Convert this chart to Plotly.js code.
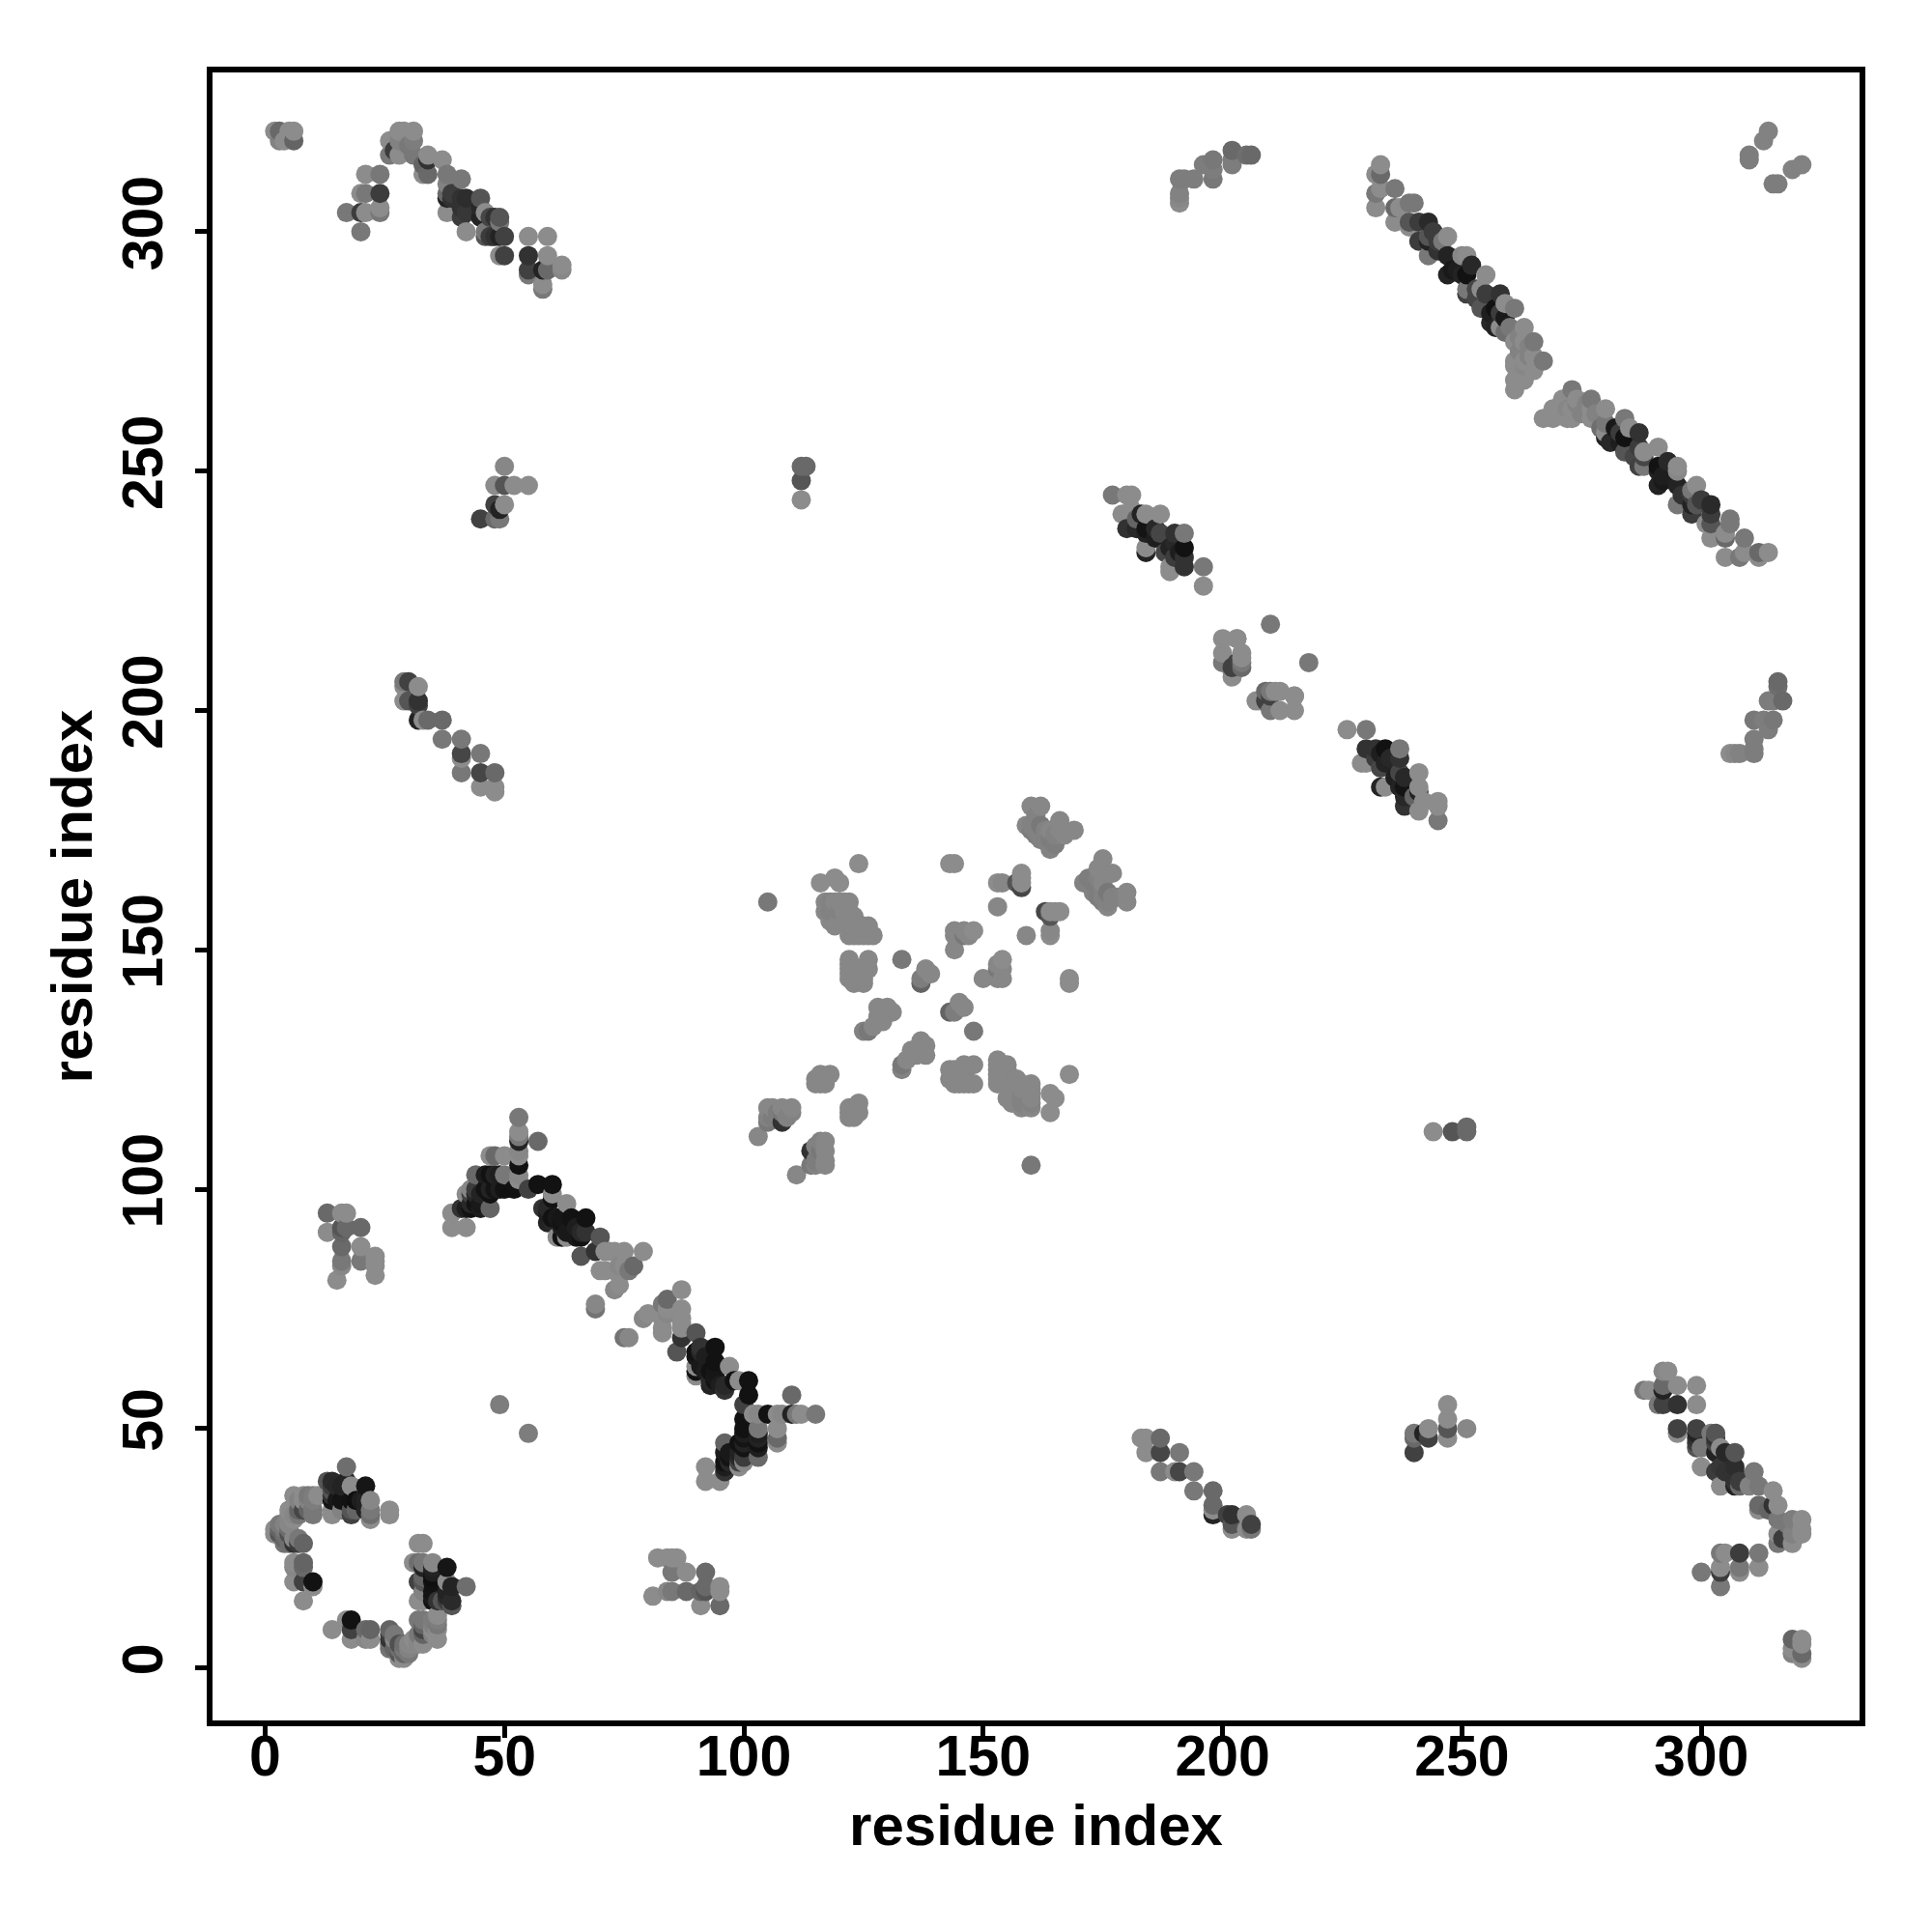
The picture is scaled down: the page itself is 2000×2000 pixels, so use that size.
<!DOCTYPE html>
<html><head><meta charset="utf-8">
<script src="https://cdn.plot.ly/plotly-3.0.1.min.js"></script>
<style>html,body{margin:0;padding:0;background:#fff}</style></head>
<body><div id="chart" style="width:2000px;height:2000px"></div>
<script>
// contacts as [residue i, residue j, grey level]; the map is symmetric, so only i<j is listed
const ringContacts = [[2,28,140],[2,29,140],[3,28,85],[3,30,120],[4,26,115],[5,30,135],[5,31,135],[5,32,135],[5,33,140],[6,26,50],[6,27,135],[6,31,140],[6,32,135],[6,36,140],[8,26,100],[8,33,70],[8,35,140],[8,36,140],[10,33,120],[10,35,125],[10,36,125],[10,32,120],[11,36,140],[3,29,100],[4,28,110],[4,30,130],[8,14,140],[6,18,140],[8,18,65],[10,17,140],[10,18,18],[6,21,135],[6,22,140],[8,21,105],[8,22,100],[13,39,85],[14,39,42],[14,37,85],[14,36,50],[14,35,20],[14,33,140],[14,32,140],[16,38,35],[16,35,20],[17,42,110],[17,39,35],[18,38,140],[18,35,18],[18,33,85],[18,32,65],[21,38,22],[21,35,35],[21,33,35],[22,35,135],[22,33,120],[22,31,140],[22,32,110],[26,33,140],[26,32,140],[4,27,100],[4,29,120],[5,28,80],[5,29,110],[7,32,120],[7,33,100],[7,35,130],[9,35,130],[9,36,120],[7,27,120],[7,26,60],[5,26,110],[9,33,100],[19,35,15],[19,33,100],[20,35,30],[15,35,25],[15,38,40],[16,33,130],[14,38,60]];
const stripContacts = [[39,95,140],[39,92,140],[42,92,140],[41,96,50],[43,96,18],[45,96,30],[47,96,100],[42,99,140],[43,100,135],[43,99,65],[45,99,35],[47,99,18],[47,100,35],[44,103,105],[47,103,18],[48,103,35],[50,103,120],[47,107,140],[48,107,105],[50,107,140],[50,100,18],[52,100,18],[53,102,140],[53,103,135],[53,105,18],[53,107,140],[53,108,135],[53,110,35],[53,111,120],[53,112,140],[53,115,120],[55,100,65],[57,101,18],[57,110,105],[60,101,18],[60,99,140],[60,98,18],[58,96,50],[63,97,140],[60,94,18],[59,93,35],[64,94,18],[67,94,18],[62,93,18],[61,90,140],[62,90,18],[63,90,140],[66,90,18],[67,91,50],[70,90,85],[66,86,85],[69,87,50],[71,87,140],[73,87,140],[75,87,140],[79,87,140],[70,83,140],[71,83,140],[73,83,140],[76,83,120],[77,84,105],[75,84,140],[73,79,135],[74,80,140],[69,76,135],[69,75,115],[72,87,140],[74,84,135],[44,99,40],[44,97,20],[45,97,25],[46,100,20],[48,100,20],[49,100,30],[49,103,30],[46,103,30],[44,100,60],[42,96,30],[43,97,40],[59,96,40],[59,95,30],[61,94,25],[62,94,22],[60,93,40],[62,92,30],[65,92,30],[65,90,25],[63,91,25],[66,91,40]];
const blockA = [[13,95,105],[16,95,140],[17,95,140],[13,91,140],[16,92,85],[17,92,105],[20,92,105],[16,91,100],[16,88,105],[20,88,140],[16,85,120],[16,84,135],[20,85,120],[23,86,140],[23,85,140],[23,84,140],[15,81,140],[23,82,140],[49,55,125],[112,244,140],[112,248,85],[112,251,105],[113,251,105]];
const centerContacts = [[105,160,120],[124,168,140],[116,164,140],[119,165,140],[120,164,140],[117,160,135],[117,158,135],[119,158,130],[122,160,135],[123,157,135],[122,158,135],[119,160,135],[118,156,135],[119,155,135],[122,153,135],[124,153,135],[126,155,135],[127,153,135],[125,154,135],[122,148,135],[122,146,135],[122,144,135],[123,143,135],[126,148,135],[126,146,135],[125,144,135],[125,146,135],[133,148,120],[138,146,135],[137,143,100],[139,145,135],[137,144,125],[143,168,140],[144,168,140],[144,154,135],[146,154,135],[148,154,140],[144,153,135],[146,153,120],[144,150,135],[153,159,135],[154,164,135],[158,164,140],[157,164,85],[158,166,140],[158,163,70],[158,165,140],[153,164,140],[160,180,135],[162,180,135],[159,176,135],[162,176,120],[162,173,130],[164,175,135],[166,177,135],[166,175,135],[169,175,135],[164,171,130],[167,174,135],[128,138,135],[130,138,135],[131,137,135],[127,134,135],[126,133,120],[125,133,130],[128,136,135],[129,135,135],[116,124,135],[118,124,135],[115,122,135],[117,122,135],[103,111,135],[105,117,135],[108,117,135],[110,117,135],[105,114,120],[108,114,50],[110,116,130],[108,116,120],[105,115,130],[109,115,130],[118,158,130],[118,160,130],[120,158,130],[120,160,135],[121,158,135],[121,156,135],[120,156,135],[121,160,135],[123,155,135],[124,155,135],[125,155,135],[122,155,135],[123,153,135],[125,153,135],[126,153,135],[123,146,135],[124,146,135],[123,144,135],[122,147,135],[122,145,135],[125,143,135],[160,176,130],[160,175,125],[161,175,130],[161,174,125],[163,173,130],[163,175,130],[165,174,130],[164,173,125],[165,172,125],[161,177,130],[161,178,130],[145,153,135],[147,153,135],[106,117,135],[107,116,125],[106,115,125],[115,123,135],[116,122,135],[116,123,135],[117,123,135]];
const blockF = [[48,183,140],[48,184,140],[48,187,105],[45,184,140],[45,187,70],[45,191,120],[41,187,120],[41,190,140],[41,191,70],[41,194,120],[37,194,120],[37,198,105],[34,198,105],[32,198,35],[33,198,140],[32,202,50],[32,201,65],[32,205,140],[30,206,65],[29,202,140],[30,202,85],[29,205,140],[29,206,120],[49,240,120],[48,240,105],[45,240,65],[49,242,35],[48,243,65],[50,243,140],[55,247,140],[52,247,140],[50,247,85],[48,247,140],[50,251,135]];
const blockH = [[2,321,140],[3,321,105],[5,321,140],[6,321,140],[3,319,130],[4,319,140],[6,319,100],[21,312,140],[24,312,120],[20,308,140],[21,308,120],[24,308,60],[17,304,120],[20,304,60],[21,304,140],[24,305,140],[24,304,120],[20,300,120],[26,319,140],[26,316,120],[28,321,140],[29,321,140],[31,321,140],[28,319,130],[28,316,140],[27,317,60],[30,318,120],[31,316,120],[31,319,125],[33,314,100],[34,316,140],[34,315,50],[34,312,105],[33,312,140],[37,315,140],[38,312,120],[41,311,120],[38,310,130],[38,308,105],[38,307,35],[38,304,140],[41,307,50],[45,307,85],[41,303,60],[42,300,140],[46,304,140],[45,303,35],[46,300,120],[46,299,85],[49,303,85],[49,302,120],[50,299,65],[49,299,35],[50,295,65],[49,295,140],[55,299,140],[59,299,140],[55,295,50],[59,295,140],[55,292,65],[55,291,120],[58,292,35],[59,292,105],[62,293,140],[62,292,135],[58,289,140],[58,288,120],[39,308,60],[39,307,50],[42,307,45],[42,304,55],[41,305,50],[45,305,40],[47,303,70],[47,299,60],[48,299,50],[48,303,50]];
const blockL = [[177,245,120],[180,245,140],[181,245,140],[179,241,140],[181,242,140],[180,238,50],[183,241,35],[184,241,140],[187,241,140],[184,237,35],[184,238,20],[187,237,70],[184,234,140],[184,233,35],[189,234,35],[190,237,50],[192,237,120],[192,234,18],[189,230,140],[189,229,140],[192,230,50],[192,232,50],[196,230,120],[196,226,140],[200,215,140],[203,215,140],[200,212,140],[204,212,140],[200,210,120],[204,210,120],[203,210,65],[202,208,140],[210,218,120],[207,202,140],[209,204,105],[209,202,65],[211,204,140],[215,203,140],[186,238,40],[186,236,30],[182,240,100],[182,238,40],[188,233,70],[190,235,40],[191,233,30],[190,232,60]];
const blockO = [[191,306,140],[191,307,135],[191,308,130],[191,311,125],[192,311,125],[194,311,125],[196,314,125],[198,311,120],[198,313,125],[198,315,120],[202,315,125],[202,317,105],[205,316,110],[206,316,105],[202,314,125],[310,316,125],[310,315,125],[313,319,130],[314,321,130]];
const stripN = [[233,314,140],[232,312,140],[233,312,105],[232,308,120],[233,309,140],[232,305,140],[236,309,120],[236,305,105],[236,302,140],[237,305,140],[239,306,120],[240,306,120],[239,302,85],[239,301,140],[243,302,42],[243,299,85],[243,298,35],[243,295,120],[244,300,60],[247,299,140],[246,298,120],[247,295,35],[247,291,35],[251,295,140],[250,295,135],[251,291,18],[250,291,35],[252,293,40],[251,288,120],[251,287,65],[255,291,140],[254,288,140],[254,284,85],[255,287,60],[258,287,50],[257,284,18],[257,280,35],[258,283,60],[259,282,25],[259,285,140],[258,280,140],[261,284,120],[260,280,120],[263,280,140],[261,277,140],[263,277,140],[265,277,120],[261,273,140],[263,273,140],[265,274,140],[267,273,120],[265,271,140],[261,269,140],[263,269,140],[261,267,140],[263,272,135],[261,272,140],[241,302,60],[241,298,60],[245,296,50],[245,298,60],[248,292,25],[249,292,30],[253,288,70],[253,286,70],[256,283,30],[256,281,40],[259,279,110],[262,278,130],[262,275,130],[264,274,130],[264,276,130]];
const contactBlocks = [ringContacts, stripContacts, blockA, centerContacts, blockF, blockH, blockL, blockO, stripN];

const tickValues = [0, 50, 100, 150, 200, 250, 300];
const axisTitleText = 'residue index';

const pts = [];
contactBlocks.forEach(b => b.forEach(([i, j, g]) => { pts.push([i, j, g]); pts.push([j, i, g]); }));
pts.sort((a, b) => a[0] - b[0] || a[1] - b[1]);

const axisFont = {family: '"Liberation Sans", Arial, sans-serif', size: 59, color: '#000', weight: 700};
const titleFont = Object.assign({}, axisFont, {size: 60});
const commonAxis = {
  tickmode: 'array', tickvals: tickValues, ticktext: tickValues.map(String),
  showgrid: false, zeroline: false, showline: true, mirror: true,
  linecolor: '#000', linewidth: 6, ticks: 'outside', ticklen: 12, tickwidth: 5, tickcolor: '#000',
  tickfont: axisFont, automargin: false
};
Plotly.newPlot('chart', [{
  type: 'scatter', mode: 'markers',
  x: pts.map(p => p[0]), y: pts.map(p => p[1]),
  marker: {size: 20, color: pts.map(p => `rgb(${p[2]},${p[2]},${p[2]})`), line: {width: 0}},
  hoverinfo: 'x+y'
}], {
  width: 2000, height: 2000, showlegend: false,
  paper_bgcolor: '#fff', plot_bgcolor: '#fff',
  margin: {l: 220, r: 75, t: 75, b: 219, pad: 0},
  xaxis: Object.assign({}, commonAxis, {range: [-10.98, 333.05], ticklabelstandoff: -32, title: {text: axisTitleText, font: titleFont, standoff: 20}}),
  yaxis: Object.assign({}, commonAxis, {range: [-10.96, 333.27], tickangle: -90, ticklabelstandoff: 10, title: {text: axisTitleText, font: titleFont, standoff: 2}})
}, {displayModeBar: false, staticPlot: true});
</script></body></html>
